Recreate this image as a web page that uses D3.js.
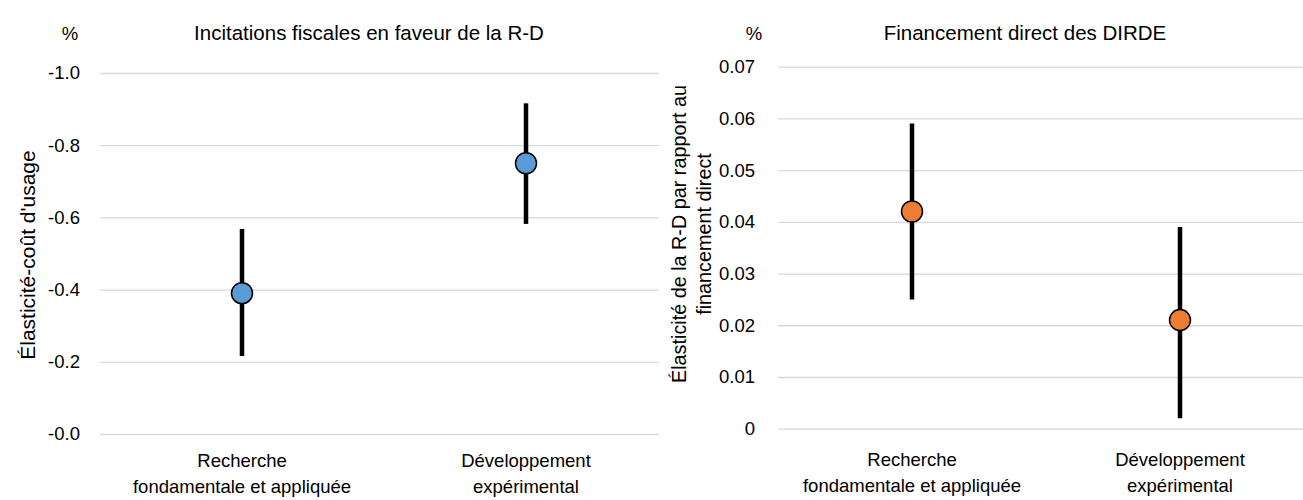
<!DOCTYPE html>
<html>
<head>
<meta charset="utf-8">
<script src="https://cdn.jsdelivr.net/npm/d3@7"></script>
<style>
  html, body { margin: 0; padding: 0; background: #fff; }
  svg { display: block; font-family: "Liberation Sans", Arial, sans-serif; }
</style>
</head>
<body>
<svg id="chart" width="1303" height="500"></svg>
<script>
// ---- data ----
const categories = ["Recherche|fondamentale et appliquée", "Développement|expérimental"];

const fiscalTitle = "Incitations fiscales en faveur de la R-D";
const fiscalYLabel = ["Élasticité-coût d'usage"];
const fiscalValues = [-0.39, -0.75];
const fiscalLow = [-0.216, -0.582];
const fiscalHigh = [-0.568, -0.916];
const fiscalTicks = [0, -0.2, -0.4, -0.6, -0.8, -1.0];
const fiscalTickLabels = ["-0.0", "-0.2", "-0.4", "-0.6", "-0.8", "-1.0"];

const directTitle = "Financement direct des DIRDE";
const directYLabel = ["Élasticité de la R-D par rapport au", "financement direct"];
const directValues = [0.042, 0.021];
const directLow = [0.025, 0.002];
const directHigh = [0.059, 0.039];
const directTicks = [0, 0.01, 0.02, 0.03, 0.04, 0.05, 0.06, 0.07];
const directTickLabels = ["0", "0.01", "0.02", "0.03", "0.04", "0.05", "0.06", "0.07"];

const svg = d3.select("#chart");

function panel(cfg) {
  const g = svg.append("g");
  const x = d3.scaleBand().domain(categories).range(cfg.xRange).padding(0);
  const y = d3.scaleLinear().domain(cfg.yDomain).range(cfg.yRange);

  // gridlines + tick labels via axis
  const axis = d3.axisLeft(y)
    .tickValues(cfg.ticks)
    .tickFormat((d, i) => cfg.tickLabels[i])
    .tickSize(-(cfg.gridEnd - cfg.gridStart))
    .tickPadding(cfg.tickPad);
  const ag = g.append("g").attr("transform", `translate(${cfg.gridStart},0)`).call(axis);
  ag.select(".domain").remove();
  ag.selectAll(".tick line").attr("stroke", "#d9d9d9").attr("stroke-width", 1.3);
  ag.selectAll(".tick text").attr("fill", "#000").attr("font-size", 18.5)
    .attr("font-family", "'Liberation Sans', Arial, sans-serif");

  // error bars
  const data = cfg.values.map((v, i) => ({ c: categories[i], v, lo: cfg.low[i], hi: cfg.high[i] }));
  g.selectAll(".err").data(data).enter().append("line")
    .attr("x1", d => x(d.c) + x.bandwidth() / 2)
    .attr("x2", d => x(d.c) + x.bandwidth() / 2)
    .attr("y1", d => y(d.lo))
    .attr("y2", d => y(d.hi))
    .attr("stroke", "#000").attr("stroke-width", 4.5);

  // markers
  g.selectAll(".pt").data(data).enter().append("circle")
    .attr("cx", d => x(d.c) + x.bandwidth() / 2)
    .attr("cy", d => y(d.v))
    .attr("r", 10.5)
    .attr("fill", cfg.color).attr("stroke", "#000").attr("stroke-width", 1.5);

  // category labels
  const cl = g.selectAll(".cat").data(categories).enter().append("text")
    .attr("text-anchor", "middle").attr("font-size", 18.5).attr("fill", "#000");
  cl.each(function (c) {
    const t = d3.select(this);
    c.split("|").forEach((line, j) => {
      t.append("tspan").attr("x", x(c) + x.bandwidth() / 2)
        .attr("y", cfg.catY + j * 26).text(line);
    });
  });

  // title
  g.append("text").attr("x", cfg.titleX).attr("y", 40).attr("text-anchor", "middle")
    .attr("font-size", 20.5).attr("fill", "#000").text(cfg.title);

  // % unit
  g.append("text").attr("x", cfg.pctX).attr("y", 40).attr("text-anchor", "middle")
    .attr("font-size", 18.5).attr("fill", "#000").text("%");

  // y axis title
  const yt = g.append("text").attr("text-anchor", "middle").attr("font-size", cfg.yLabelSize).attr("fill", "#000")
    .attr("transform", `translate(${cfg.yLabelX},${cfg.yLabelY}) rotate(-90)`);
  const n = cfg.yLabel.length;
  cfg.yLabel.forEach((line, j) => {
    yt.append("tspan").attr("x", 0).attr("y", (j - (n - 1) / 2) * 25).attr("dy", "0.35em").text(line);
  });
}

panel({
  xRange: [100, 668], yDomain: [0, -1], yRange: [434, 73],
  gridStart: 100, gridEnd: 659, tickPad: 20,
  ticks: fiscalTicks, tickLabels: fiscalTickLabels,
  values: fiscalValues, low: fiscalLow, high: fiscalHigh,
  color: "#5b9bd5", catY: 467, title: fiscalTitle, titleX: 369, pctX: 70,
  yLabel: fiscalYLabel, yLabelX: 28, yLabelY: 255, yLabelSize: 21
});

panel({
  xRange: [778, 1314], yDomain: [0, 0.07], yRange: [428.7, 66.7],
  gridStart: 778, gridEnd: 1303, tickPad: 23,
  ticks: directTicks, tickLabels: directTickLabels,
  values: directValues, low: directLow, high: directHigh,
  color: "#ed7d31", catY: 466, title: directTitle, titleX: 1025, pctX: 754,
  yLabel: directYLabel, yLabelX: 692, yLabelY: 234, yLabelSize: 19.8
});
</script>
</body>
</html>
